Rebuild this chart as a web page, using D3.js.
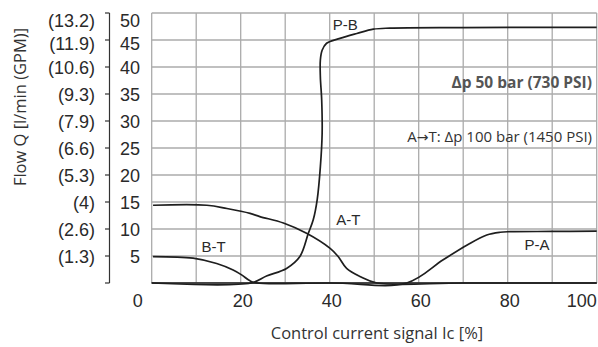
<!DOCTYPE html>
<html>
<head>
<meta charset="utf-8">
<script src="https://cdn.jsdelivr.net/npm/d3@7"></script>
<style>
  html, body { margin: 0; padding: 0; background: #fff; }
  svg { display: block; }
  .curve { fill: none; stroke: #1e1e1e; stroke-width: 1.7; }
  .tick-lbl { font-family: "Liberation Sans Narrow", "Liberation Sans", sans-serif; font-size: 18px; fill: #2a2a2a; }
  .curve-lbl { font-family: "Liberation Sans Narrow", "Liberation Sans", sans-serif; font-size: 15px; fill: #2a2a2a; }
  .title { font-family: "Open Sans", sans-serif; font-weight: 400; font-size: 16.5px; fill: #333; }
  .note { font-family: "Open Sans", sans-serif; font-size: 15px; fill: #333; }
  .note-bold { font-family: "Open Sans", sans-serif; font-weight: 700; font-size: 15.5px; fill: #555; }
</style>
</head>
<body>
<div id="chart"></div>
<script>
const W = 598;
const H = 347;
const MARGIN = { top: 13, right: 1.3, bottom: 64, left: 151.7 };

// y axis: l/min with GPM equivalents
const Y_TICKS = [0, 5, 10, 15, 20, 25, 30, 35, 40, 45, 50];
const Y_LABELS = ["", "5", "10", "15", "20", "25", "30", "35", "40", "45", "50"];
const GPM_LABELS = ["", "(1.3)", "(2.6)", "(4)", "(5.3)", "(6.6)", "(7.9)", "(9.3)", "(10.6)", "(11.9)", "(13.2)"];
const X_GRID = [0, 10, 20, 30, 40, 50, 60, 70, 80, 90, 100];
const X_LABELS = [0, 20, 40, 60, 80, 100];

// curves [control %, flow l/min]
const PB = [[0, 0], [22.3, 0], [25.8, 1.3], [30.3, 2.7], [33.3, 4.9], [35.2, 9.2], [36.3, 11.7],
  [37.2, 15.5], [37.9, 21.5], [38.3, 27.7], [38.2, 33.9], [37.9, 38.2], [37.9, 41.3], [38.3, 43.1],
  [39.3, 44.4], [42.3, 45.3], [46.1, 46.2], [49.8, 47.0], [53.5, 47.2], [70, 47.3], [100, 47.35]];
const AT = [[0.3, 14.4], [12.4, 14.4], [16.9, 13.8], [22.1, 12.9], [24.3, 12.3], [29.6, 11.1],
  [34.8, 9.2], [40.1, 6.4], [41.9, 4.9], [43.8, 2.7], [46.8, 1.2], [50.6, 0], [70, 0], [100, 0]];
const BT = [[0.3, 4.9], [9.3, 4.6], [14.6, 3.6], [18.3, 2.4], [20.2, 1.5], [22.1, 0.4], [23.6, 0],
  [40, 0], [100, 0]];
const PA = [[0, 0], [40, 0], [57.3, 0], [65.5, 4.3], [70.8, 7.0], [75.3, 8.9], [78.3, 9.4],
  [80.5, 9.5], [90, 9.55], [100, 9.6]];

const CURVE_LABELS = [
  { text: "P-B", x: 43.5, y: 47.9 },
  { text: "A-T", x: 44.2, y: 11.8 },
  { text: "B-T", x: 13.9, y: 6.7 },
  { text: "P-A", x: 86.6, y: 7.2 },
];

const x = d3.scaleLinear().domain([0, 100]).range([MARGIN.left, W - MARGIN.right]);
const y = d3.scaleLinear().domain([0, 50]).range([H - MARGIN.bottom, MARGIN.top]);

const svg = d3.select("#chart").append("svg").attr("width", W).attr("height", H);

// grid: horizontal lines at every y tick, vertical every 10 %
const segment = d3.line();
const grid = svg.append("g");
grid.selectAll("path.h").data(Y_TICKS).join("path").attr("class", "h")
  .attr("fill", "none").attr("stroke", "#ababab").attr("stroke-width", 1.3)
  .attr("d", (d) => segment([[x(0), y(d)], [x(100), y(d)]]));
grid.selectAll("path.v").data(X_GRID).join("path").attr("class", "v")
  .attr("fill", "none").attr("stroke", "#ababab").attr("stroke-width", 1.3)
  .attr("d", (d) => segment([[x(d), y(0)], [x(d), y(50)]]));

// separate y axis line with ticks pointing left
const AXIS_X = 109.5;
const yAxis = svg.append("g");
yAxis.append("path")
  .attr("fill", "none").attr("stroke", "#333").attr("stroke-width", 1.2)
  .attr("d", segment([[AXIS_X, y(50)], [AXIS_X, y(0)]]));
yAxis.selectAll("path.tk").data(Y_TICKS).join("path").attr("class", "tk")
  .attr("fill", "none").attr("stroke", "#333").attr("stroke-width", 1.2)
  .attr("d", (d) => segment([[AXIS_X - 4.5, y(d)], [AXIS_X, y(d)]]));

// top labels are pushed down a little, as in the original
const labelShift = (d) => (d === 50 ? 8 : d === 45 ? 3.5 : 1);

svg.append("g").selectAll("text").data(Y_TICKS).join("text")
  .attr("class", "tick-lbl")
  .attr("x", 140).attr("y", (d) => y(d) + labelShift(d))
  .attr("text-anchor", "end").attr("dominant-baseline", "central")
  .text((d, i) => Y_LABELS[i]);

svg.append("g").selectAll("text").data(Y_TICKS).join("text")
  .attr("class", "tick-lbl")
  .attr("x", 95).attr("y", (d) => y(d) + labelShift(d))
  .attr("text-anchor", "end").attr("dominant-baseline", "central")
  .text((d, i) => GPM_LABELS[i]);

// x tick labels
svg.append("g").selectAll("text").data(X_LABELS).join("text")
  .attr("class", "tick-lbl")
  .attr("x", (d) => (d === 0 ? x(d) - 9 : d === 100 ? x(d) : x(d) + 2))
  .attr("y", y(0) + 24)
  .attr("text-anchor", (d) => (d === 0 || d === 100 ? "end" : "middle"))
  .text((d) => d);

// curves
const curveGen = d3.line().x((d) => x(d[0])).y((d) => y(d[1])).curve(d3.curveCatmullRom.alpha(0.5));
svg.append("g").selectAll("path").data([PA, BT, AT, PB]).join("path")
  .attr("class", "curve").attr("d", curveGen);

svg.append("g").selectAll("text").data(CURVE_LABELS).join("text")
  .attr("class", "curve-lbl")
  .attr("x", (d) => x(d.x)).attr("y", (d) => y(d.y))
  .attr("text-anchor", "middle").attr("dominant-baseline", "central")
  .text((d) => d.text);

// annotations
svg.append("text").attr("class", "note-bold")
  .attr("x", 592).attr("y", 88).attr("text-anchor", "end")
  .text("Δp 50 bar (730 PSI)");
const note = svg.append("text").attr("class", "note")
  .attr("x", 592).attr("y", 142).attr("text-anchor", "end");
note.append("tspan").text("A");
note.append("tspan").style("font-family", "DejaVu Sans").style("font-size", "14px").text("→");
note.append("tspan").text("T: Δp 100 bar (1450 PSI)");

// axis titles
svg.append("text").attr("class", "title")
  .attr("x", 377).attr("y", 339).attr("text-anchor", "middle")
  .text("Control current signal Ic [%]");
svg.append("text").attr("class", "title")
  .attr("transform", "translate(26,107) rotate(-90)").attr("text-anchor", "middle")
  .text("Flow Q [l/min (GPM)]");
</script>
</body>
</html>
